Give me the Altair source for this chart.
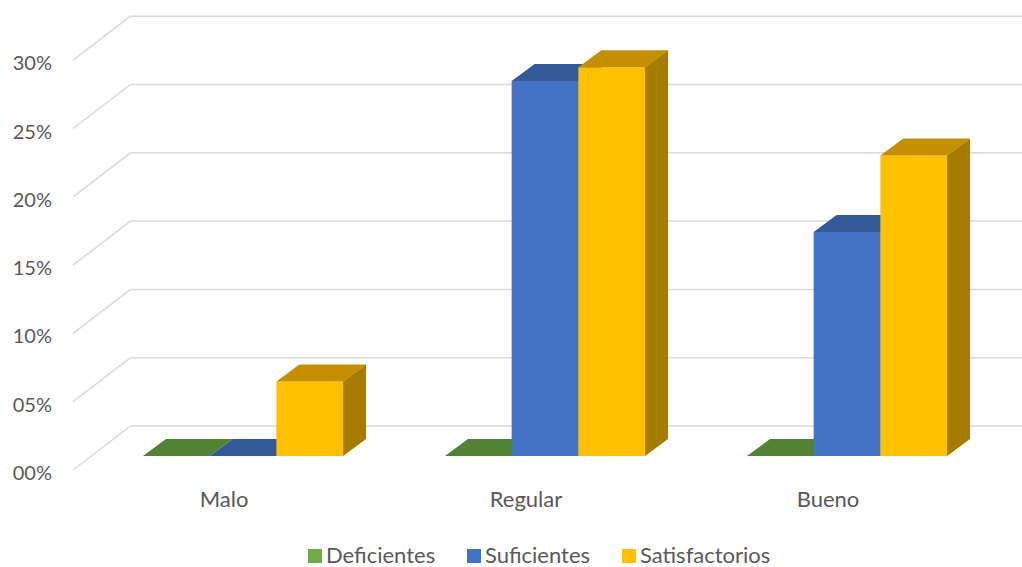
import altair as alt
import pandas as pd

# ---------------- data ----------------
categories = ["Malo", "Regular", "Bueno"]
series = ["Deficientes", "Suficientes", "Satisfactorios"]
deficientes = [0.0, 0.0, 0.0]
suficientes = [0.0, 27.45, 16.4]
satisfactorios = [5.45, 28.45, 22.0]
tick_values = [0, 5, 10, 15, 20, 25, 30]
tick_labels = ["00%", "05%", "10%", "15%", "20%", "25%", "30%"]

front_colors = ["#70AD47", "#4472C4", "#FFC000"]
top_colors = ["#548235", "#335A96", "#C49000"]
side_colors = ["#4E7A32", "#2C4E85", "#A67C00"]

# ---------------- geometry (oblique 3-D look) ----------------
W, H = 1022, 567
X0_PX, BAND_PX = 73, 302          # front-plane left edge, category band width
Y0_PX, PX_PER_PCT = 470, 13.66    # front-plane zero line, pixels per percent


def du(px):
    return px / BAND_PX


def dv(px):
    return px / PX_PER_PCT


WALL_DU, WALL_DV = du(57.5), dv(44)     # depth of the whole chart box
FRONT_DU, FRONT_DV = du(19), dv(14)     # bars sit this far behind the front plane
DEPTH_DU, DEPTH_DV = du(23), dv(17)     # bar depth
BAR_W = du(66.7)
GROUP_OFF = (1 - 3 * BAR_W) / 2

XMIN, XMAX = du(-X0_PX), du(W - X0_PX)
YMIN, YMAX = dv(Y0_PX - H), dv(Y0_PX)

xs = alt.Scale(domain=[XMIN, XMAX], nice=False, zero=False)
ys = alt.Scale(domain=[YMIN, YMAX], nice=False, zero=False)

values = [deficientes, suficientes, satisfactorios]

bar_rows, top_rows, side_rows = [], [], []
for i, c in enumerate(categories):
    for j, s in enumerate(series):
        v = values[j][i]
        x0 = i + GROUP_OFF + j * BAR_W + FRONT_DU
        x1 = x0 + BAR_W
        base = FRONT_DV
        top = base + v
        bid = f"{c}-{s}"
        bar_rows.append(dict(bar=bid, serie=s, j=j, x0=x0, x1=x1, base=base, top=top))
        top_rows.append(dict(bar=bid, j=j, y=top, xa=x0, xb=x1))
        top_rows.append(dict(bar=bid, j=j, y=top + DEPTH_DV, xa=x0 + DEPTH_DU, xb=x1 + DEPTH_DU))
        side_rows.append(dict(bar=bid, j=j, x=x1, ya=base, yb=top))
        side_rows.append(dict(bar=bid, j=j, x=x1 + DEPTH_DU, ya=base + DEPTH_DV, yb=top + DEPTH_DV))

bars = pd.DataFrame(bar_rows)
tops = pd.DataFrame(top_rows)
sides = pd.DataFrame(side_rows)

grid_rows = []
for t in tick_values:
    grid_rows.append(dict(xa=0, ya=t, xb=WALL_DU, yb=t + WALL_DV))
    grid_rows.append(dict(xa=WALL_DU, ya=t + WALL_DV, xb=XMAX, yb=t + WALL_DV))
grid = pd.DataFrame(grid_rows)

ylab = pd.DataFrame(dict(t=tick_values, label=tick_labels, lx=[du(-21)] * len(tick_values)))
xlab = pd.DataFrame(dict(cat=categories, cx=[i + 0.5 for i in range(len(categories))], cy=[0] * len(categories)))

FONT = "Lato"
TXT = "#595959"

layers = []
layers.append(
    alt.Chart(grid).mark_rule(color="#D9D9D9", strokeWidth=1.5).encode(
        x=alt.X("xa:Q", scale=xs, axis=None), x2="xb:Q",
        y=alt.Y("ya:Q", scale=ys, axis=None), y2="yb:Q",
    )
)

legend = alt.Legend(
    orient="none", legendX=304, legendY=545, direction="horizontal", title=None,
    symbolType="square", symbolSize=196, symbolStrokeWidth=0,
    labelFontSize=22, labelFont=FONT, labelColor=TXT, labelOffset=0,
    columnPadding=27, padding=0,
)

for j in range(len(series)):
    layers.append(
        alt.Chart(bars[bars.j == j]).mark_rect().encode(
            x=alt.X("x0:Q", scale=xs, axis=None), x2="x1:Q",
            y=alt.Y("base:Q", scale=ys, axis=None), y2="top:Q",
            color=alt.Color("serie:N", scale=alt.Scale(domain=series, range=front_colors), legend=legend),
        )
    )
    layers.append(
        alt.Chart(tops[tops.j == j]).mark_area(orient="horizontal", color=top_colors[j]).encode(
            y=alt.Y("y:Q", scale=ys, axis=None),
            x=alt.X("xa:Q", scale=xs, axis=None), x2="xb:Q",
            detail="bar:N",
        )
    )
    layers.append(
        alt.Chart(sides[sides.j == j]).mark_area(orient="vertical", color=side_colors[j]).encode(
            x=alt.X("x:Q", scale=xs, axis=None),
            y=alt.Y("ya:Q", scale=ys, axis=None), y2="yb:Q",
            detail="bar:N",
        )
    )

layers.append(
    alt.Chart(ylab).mark_text(align="right", baseline="alphabetic", dy=10, font=FONT, fontSize=20, color=TXT).encode(
        x=alt.X("lx:Q", scale=xs, axis=None), y=alt.Y("t:Q", scale=ys, axis=None), text="label:N"
    )
)
layers.append(
    alt.Chart(xlab).mark_text(align="center", baseline="alphabetic", dy=37, font=FONT, fontSize=22, color=TXT).encode(
        x=alt.X("cx:Q", scale=xs, axis=None), y=alt.Y("cy:Q", scale=ys, axis=None), text="cat:N"
    )
)

chart = (
    alt.layer(*layers)
    .properties(width=W, height=H, padding=0, autosize="none", background="white")
    .configure_view(stroke=None)
)

chart.save("out.html", embed_options={"renderer": "svg", "actions": False})
